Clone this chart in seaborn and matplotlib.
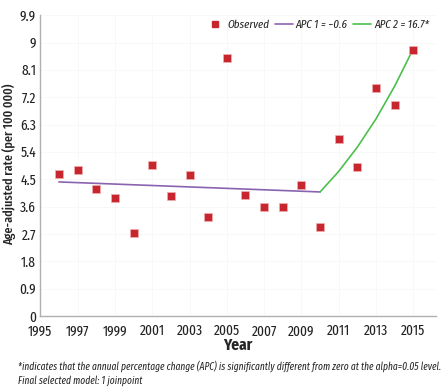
import numpy as np
import pandas as pd
import seaborn as sns
import matplotlib.pyplot as plt
from matplotlib.lines import Line2D

# observed age-adjusted rates
years = list(range(1996, 2016))
observed = [4.67, 4.80, 4.18, 3.88, 2.73, 4.97, 3.95, 4.64, 3.26, 8.49,
            3.98, 3.59, 3.59, 4.31, 2.93, 5.82, 4.90, 7.50, 6.94, 8.75]

# fitted joinpoint segments
seg1_years = [1996, 2010]
seg1_fit = [4.41, 4.08]
seg2_years = [2010, 2011, 2012, 2013, 2014, 2015]
seg2_fit = [4.08, 4.76, 5.56, 6.49, 7.57, 8.80]

xticks = list(range(1995, 2016, 2))
yticks = [0, 0.9, 1.8, 2.7, 3.6, 4.5, 5.4, 6.3, 7.2, 8.1, 9, 9.9]
ytick_labels = ['0', '0.9', '1.8', '2.7', '3.6', '4.5', '5.4', '6.3', '7.2', '8.1', '9', '9.9']

sns.set_style('white')
plt.rcParams['font.family'] = ['Fira Sans Extra Condensed', 'DejaVu Sans']

fig = plt.figure(figsize=(4.42, 3.89), dpi=100)
ax = fig.add_axes([0.091, 0.188, 0.895, 0.773])

red = '#c8262e'
purple = '#8a63b0'
green = '#4cc04c'

sns.lineplot(x=seg1_years, y=seg1_fit, color=purple, lw=1.2, ax=ax)
sns.lineplot(x=seg2_years, y=seg2_fit, color=green, lw=1.2, ax=ax)
sns.scatterplot(x=years, y=observed, marker='s', s=28, color=red,
                edgecolor='#f0b0b0', linewidth=0.5, ax=ax, zorder=5)

ax.set_xlim(1995, 2016.2)
ax.set_ylim(0, 9.9)
ax.set_xticks(xticks)
ax.set_yticks(yticks)
ax.set_yticklabels(ytick_labels)
ax.tick_params(labelsize=10.5, length=0, pad=3, colors='#222222')
ax.tick_params(axis='x', pad=6)
ax.grid(True, color='#f7f7f7', lw=0.6)
for s in ['top', 'right']:
    ax.spines[s].set_visible(False)
for s in ['left', 'bottom']:
    ax.spines[s].set_color('#b0b0b0')
    ax.spines[s].set_linewidth(1.0)

ax.set_xlabel('Year', fontsize=12, fontweight='bold', labelpad=-1)
ax.set_ylabel('Age-adjusted rate (per 100 000)', fontsize=9.5, fontweight='medium')
ax.yaxis.set_label_coords(-0.062, 0.505)

handles = [
    Line2D([], [], marker='s', ls='none', color=red, markersize=5),
    Line2D([], [], color=purple, lw=1.2),
    Line2D([], [], color=green, lw=1.2),
]
labels = ['Observed', 'APC 1 = \u22120.6', 'APC 2 = 16.7*']
ax.legend(handles, labels, ncol=3, loc='upper right', bbox_to_anchor=(1.01, 1.02),
          frameon=False, prop={'style': 'italic', 'size': 8.5},
          handlelength=1.5, handletextpad=0.25, columnspacing=0.5)

fig.text(0.04, 0.06, '*indicates that the annual percentage change (APC) is significantly different from zero at the alpha=0.05 level.',
         fontsize=7.4, style='italic', ha='left', va='center')
fig.text(0.04, 0.022, 'Final selected model: 1 joinpoint',
         fontsize=7.4, style='italic', ha='left', va='center')

fig.savefig('out.png', dpi=100)
